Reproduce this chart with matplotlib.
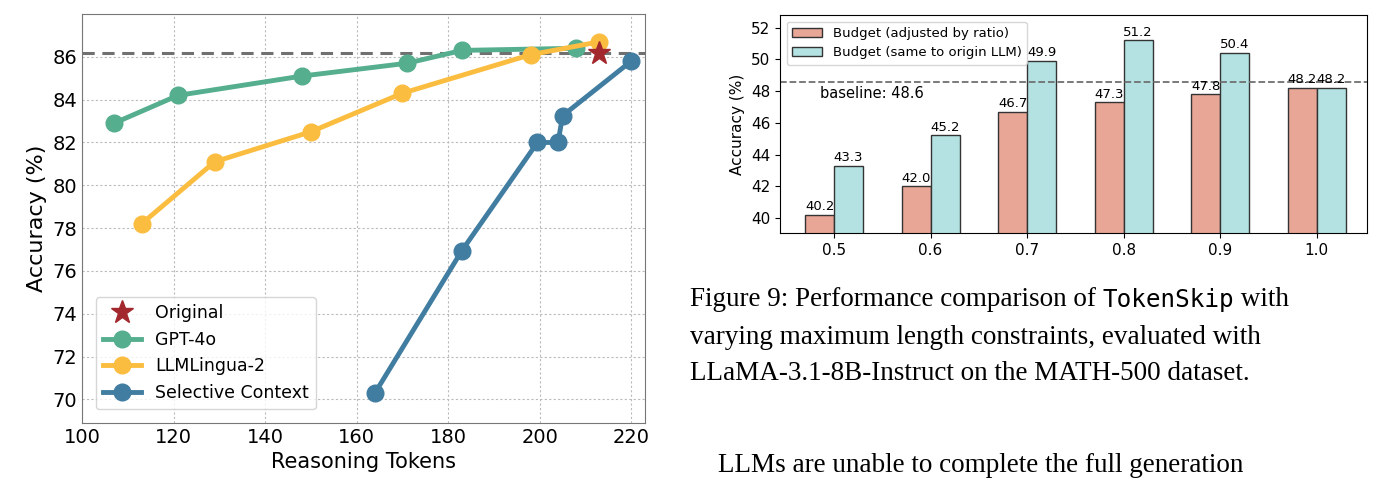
import matplotlib
matplotlib.use("Agg")
import matplotlib.pyplot as plt
import numpy as np

# Left chart: accuracy vs reasoning tokens
gpt_x = [107, 121, 148, 171, 183, 208]
gpt_y = [82.9, 84.2, 85.1, 85.7, 86.3, 86.4]
lingua_x = [113, 129, 150, 170, 198, 213]
lingua_y = [78.2, 81.1, 82.5, 84.3, 86.1, 86.7]
sel_x = [164, 183, 199.5, 204, 205, 220]
sel_y = [70.3, 76.95, 82.0, 82.0, 83.25, 85.8]
orig_x, orig_y = 213, 86.2

# Right chart: budget ratios
ratios = ["0.5", "0.6", "0.7", "0.8", "0.9", "1.0"]
adjusted = [40.2, 42.0, 46.7, 47.3, 47.8, 48.2]
same = [43.3, 45.2, 49.9, 51.2, 50.4, 48.2]
baseline = 48.6

fig = plt.figure(figsize=(13.91, 4.82), dpi=100)

ax = fig.add_axes([82/1391, 1-423/482, 563/1391, 409/482])
ax.grid(True, linestyle=(0, (2, 2)), color="#bbbbbb", linewidth=0.8)
ax.set_axisbelow(True)
ax.axhline(orig_y, color="#707070", linestyle="--", linewidth=2.2, dashes=(4, 2.5))
ax.plot(gpt_x, gpt_y, "-o", color="#55AE8E", lw=3.5, ms=12, label="GPT-4o")
ax.plot(lingua_x, lingua_y, "-o", color="#FBBD40", lw=3.5, ms=12, label="LLMLingua-2")
ax.plot(sel_x, sel_y, "-o", color="#417DA1", lw=3.5, ms=12, label="Selective Context")
ax.plot([orig_x], [orig_y], "*", color="#A3282E", ms=17, ls="none", label="Original")
h, l = ax.get_legend_handles_labels()
order = [3, 0, 1, 2]
ax.legend([h[i] for i in order], [l[i] for i in order], loc="lower left",
          fontsize=12.5, frameon=True, borderaxespad=0.8, handlelength=2.2)
ax.set_xlim(100, 223)
ax.set_ylim(68.9, 88.0)
ax.set_xticks([100, 120, 140, 160, 180, 200, 220])
ax.set_yticks(range(70, 88, 2))
ax.tick_params(labelsize=14, length=0)
ax.set_xlabel("Reasoning Tokens", fontsize=15)
ax.set_ylabel("Accuracy (%)", fontsize=16)
for s in ax.spines.values():
    s.set_color("#777777")

ax2 = fig.add_axes([780/1391, 1-233/482, 587/1391, 218/482])
x = np.arange(len(ratios))
w = 0.3
b1 = ax2.bar(x - w/2, adjusted, w, color="#E8A696", edgecolor="#333333", lw=1,
             label="Budget (adjusted by ratio)")
b2 = ax2.bar(x + w/2, same, w, color="#B4E2E2", edgecolor="#333333", lw=1,
             label="Budget (same to origin LLM)")
for bars, vals in [(b1, adjusted), (b2, same)]:
    for r, v in zip(bars, vals):
        ax2.text(r.get_x() + r.get_width()/2, v + 0.1, f"{v:.1f}", ha="center",
                 va="bottom", fontsize=9.5)
ax2.axhline(baseline, color="#707070", linestyle="--", lw=1.3)
ax2.text(-0.15, baseline - 0.25, f"baseline: {baseline}", fontsize=10.5, va="top")
ax2.set_xticks(x)
ax2.set_xticklabels(ratios)
ax2.set_xlim(-0.56, 5.52)
ax2.set_ylim(39.05, 52.8)
ax2.set_yticks(range(40, 53, 2))
ax2.tick_params(labelsize=11)
ax2.set_ylabel("Accuracy (%)", fontsize=11)
ax2.legend(loc="upper left", fontsize=9.5, handlelength=2.3)

# caption text
fs = 19.5
y0 = 1 - 300/482
fig.text(690/1391, y0, "Figure 9: Performance comparison of ", fontsize=fs,
         family="Liberation Serif", va="center")
fig.text(690/1391, y0 - 37/482, "varying maximum length constraints, evaluated with",
         fontsize=fs, family="Liberation Serif", va="center")
fig.text(690/1391, y0 - 74/482, "LLaMA-3.1-8B-Instruct on the MATH-500 dataset.",
         fontsize=fs, family="Liberation Serif", va="center")
fig.canvas.draw()
t = fig.texts[0]
bb = t.get_window_extent()
t2 = fig.text(bb.x1/1391, y0, "TokenSkip", fontsize=fs - 2, family="DejaVu Sans Mono",
              va="center")
bb2 = t2.get_window_extent()
fig.text(bb2.x1/1391, y0, " with", fontsize=fs, family="Liberation Serif", va="center")
fig.text(718/1391, 1 - 466/482, "LLMs are unable to complete the full generation",
         fontsize=fs, family="Liberation Serif", va="center")

fig.savefig("out.png", dpi=100)
